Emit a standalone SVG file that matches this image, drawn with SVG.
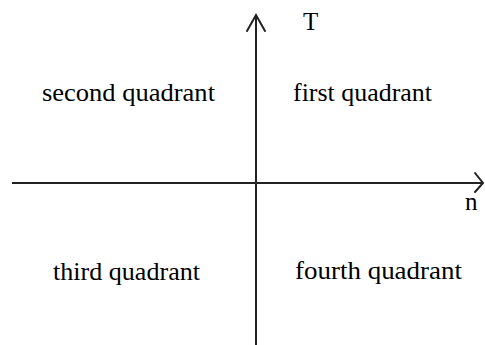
<svg xmlns="http://www.w3.org/2000/svg" width="485" height="345" viewBox="0 0 485 345">
<style>
.axis{stroke:#222;stroke-width:2;fill:none}
.head{stroke:#222;stroke-width:2;fill:none;stroke-linecap:round;stroke-linejoin:miter}
.lbl{font-family:'Liberation Serif','Times New Roman',Times,serif;font-size:25px;fill:#000}
</style>
<rect width="485" height="345" fill="#fff"/>
<g id="connectors">
<line class="axis" x1="12" y1="183" x2="482" y2="183"/>
<polyline class="head" points="475,173 483,183 475,192"/>
<line class="axis" x1="256" y1="16" x2="256" y2="345"/>
<polyline class="head" points="247,31 256,15 265,31"/>
</g>
<g id="axis-T"><text class="lbl" x="303" y="30">T</text></g>
<g id="axis-n"><text class="lbl" x="465" y="210">n</text></g>
<g id="second"><text class="lbl" x="42" y="101" textLength="173" lengthAdjust="spacingAndGlyphs">second quadrant</text></g>
<g id="first"><text class="lbl" x="293" y="101" textLength="139" lengthAdjust="spacingAndGlyphs">first quadrant</text></g>
<g id="third"><text class="lbl" x="53" y="280" textLength="147" lengthAdjust="spacingAndGlyphs">third quadrant</text></g>
<g id="fourth"><text class="lbl" x="295" y="279" textLength="167" lengthAdjust="spacingAndGlyphs">fourth quadrant</text></g>
</svg>
